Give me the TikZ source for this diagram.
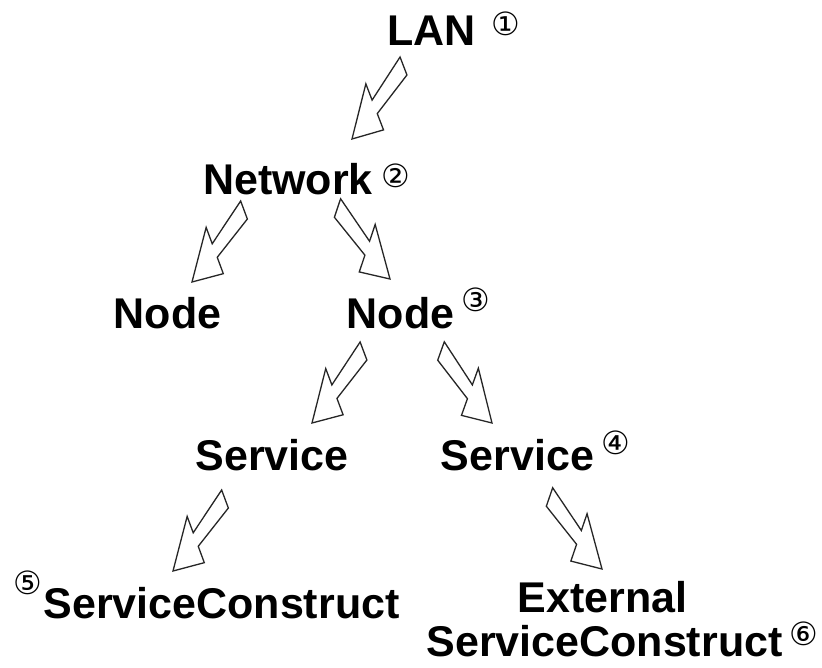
\documentclass[tikz,border=0pt]{standalone}
\usepackage{fontspec}
\setmainfont{Liberation Sans}
\newfontfamily\circfont{DejaVu Sans}
\usetikzlibrary{calc}
\newcommand\blockarrow[3]{%
 \pgfmathsetmacro\bkTa{8*(#3)}\pgfmathsetmacro\bkTb{-8*(#3)}%
 \pgfmathsetmacro\bkNa{50+6*(#3)}\pgfmathsetmacro\bkNb{50-6*(#3)}%
 \pgfmathsetmacro\bkHa{50+20.5*(#3)}\pgfmathsetmacro\bkHb{50-20.5*(#3)}%
 \coordinate (bkTa) at ($(#1)!\bkTa pt!(#2)$);
 \coordinate (bkTb) at ($(#1)!\bkTb pt!(#2)$);
 \coordinate (bkNa) at ($(#1)!\bkNa pt!(#2)$);
 \coordinate (bkNb) at ($(#1)!\bkNb pt!(#2)$);
 \coordinate (bkHa) at ($(#1)!\bkHa pt!(#2)$);
 \coordinate (bkHb) at ($(#1)!\bkHb pt!(#2)$);
 \draw[bigarrow] ($(bkTa)!8pt!90:(#2)$) -- ($(bkNa)!6pt!90:(#2)$)
   -- ($(bkHa)!20.5pt!90:(#2)$) -- (#2) -- ($(bkHb)!20.5pt!-90:(#2)$)
   -- ($(bkNb)!6pt!-90:(#2)$) -- ($(bkTb)!8pt!-90:(#2)$) -- cycle;
}
\tikzset{
  lbl/.style={inner sep=0pt, anchor=base, font=\fontsize{43pt}{50pt}\selectfont\bfseries},
  circ/.style={inner sep=0pt, anchor=center, font=\circfont\fontsize{32pt}{34pt}\selectfont},
  bigarrow/.style={draw=black!85, fill=white, line width=1.3pt, line join=miter},
}
\begin{document}
\begin{tikzpicture}[x=1pt,y=-1pt]
\useasboundingbox (0,0) rectangle (822,667);
\fill[white] (0,0) rectangle (822,667);
% labels
\node[lbl] (lan) at (431.5,45) {LAN};
\node[lbl] (net) at (288,194) {Network};
\node[lbl] (nodeL) at (167.5,328) {Node};
\node[lbl] (nodeR) at (400.5,328) {Node};
\node[lbl] (svcL) at (272,470) {Service};
\node[lbl] (svcR) at (517.5,470) {Service};
\node[lbl] (scL) at (221.5,618) {ServiceConstruct};
\node[lbl] (ext) at (602.5,612) {External};
\node[lbl] (extsc) at (604.5,656) {ServiceConstruct};
% circled numbers
\node[circ] (c1) at (506,24) {①};
\node[circ] (c2) at (396,176) {②};
\node[circ] (c3) at (476,300) {③};
\node[circ] (c4) at (616,443) {④};
\node[circ] (c5) at (28,583) {⑤};
\node[circ] (c6) at (804,634) {⑥};
% arrow end points
\coordinate (t1) at (403.5,66);  \coordinate (p1) at (352,139);
\coordinate (t2) at (244,210);   \coordinate (p2) at (192,282);
\coordinate (t3) at (337.5,208); \coordinate (p3) at (390,279);
\coordinate (t4) at (363.5,351); \coordinate (p4) at (312,423);
\coordinate (t5) at (441,351);   \coordinate (p5) at (492,423);
\coordinate (t6) at (225,499);   \coordinate (p6) at (173,571);
\coordinate (t7) at (549.5,497); \coordinate (p7) at (602,569);
\blockarrow{t1}{p1}{0.67}
\blockarrow{t2}{p2}{0.67}
\blockarrow{t3}{p3}{-0.7}
\blockarrow{t4}{p4}{0.67}
\blockarrow{t5}{p5}{-0.7}
\blockarrow{t6}{p6}{0.67}
\blockarrow{t7}{p7}{-0.7}
\end{tikzpicture}
\end{document}
